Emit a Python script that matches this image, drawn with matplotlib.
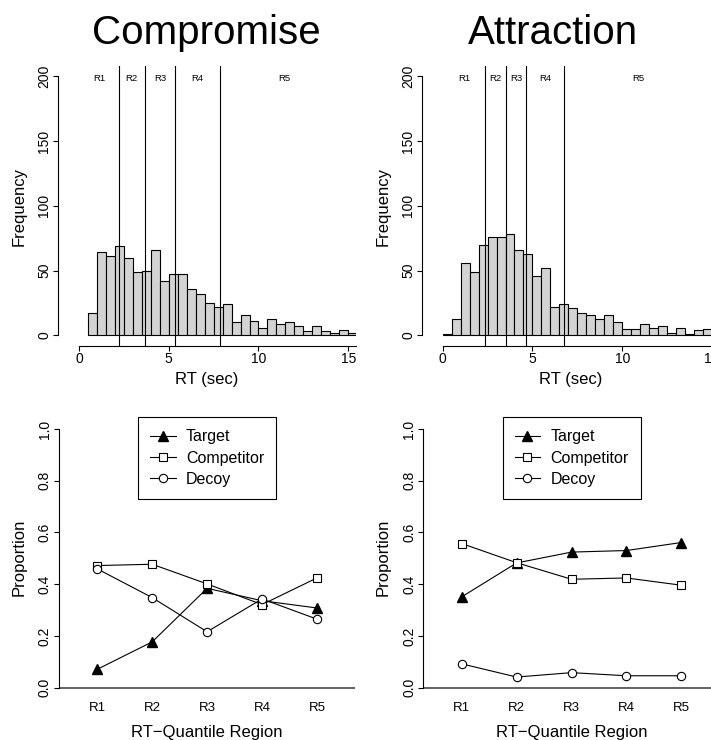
import numpy as np
import matplotlib
matplotlib.use("Agg")
import matplotlib.pyplot as plt

plt.rcParams['font.family'] = ['Liberation Sans', 'DejaVu Sans']

# ---- data ----
bin_width = 0.5
comp_start = 0.5
comp_counts = [17, 64, 61, 69, 60, 49, 50, 66, 42, 47, 47, 36, 32, 25, 22, 24,
               10, 16, 11, 6, 13, 9, 10, 7, 3, 7, 3, 2, 4, 2, 6]
attr_start = 0.0
attr_counts = [1, 13, 56, 49, 70, 76, 76, 78, 66, 63, 46, 52, 22, 24, 21, 17,
               16, 13, 16, 10, 5, 5, 9, 6, 7, 2, 6, 1, 4, 5, 3]
comp_quantiles = [2.21, 3.68, 5.35, 7.85]
attr_quantiles = [2.37, 3.51, 4.66, 6.75]

regions = ["R1", "R2", "R3", "R4", "R5"]
comp_target = [0.071, 0.177, 0.384, 0.336, 0.308]
comp_competitor = [0.472, 0.477, 0.401, 0.321, 0.424]
comp_decoy = [0.459, 0.348, 0.216, 0.343, 0.265]
attr_target = [0.351, 0.482, 0.524, 0.530, 0.561]
attr_competitor = [0.557, 0.483, 0.419, 0.424, 0.396]
attr_decoy = [0.092, 0.041, 0.058, 0.046, 0.046]

W, H = 711, 740
fig = plt.figure(figsize=(W / 100, H / 100), dpi=100)


def box(left, top, right, bottom):
    return [left / W, 1 - bottom / H, (right - left) / W, (bottom - top) / H]


TICK = 10


def hist_panel(left, counts, start, quants, title, title_x):
    ax = fig.add_axes(box(left, 66, left + 297.7, 345.7))
    edges = start + bin_width * np.arange(len(counts))
    ax.bar(edges, counts, width=bin_width, align='edge', color='#d3d3d3',
           edgecolor='black', linewidth=0.8, zorder=2)
    xmax = -1.153 + 297.7 / 17.95
    ax.set_xlim(-1.153, xmax)
    ax.set_ylim(-8, 208)
    for q in quants:
        ax.axvline(q, color='black', linewidth=0.8, zorder=3)
    bounds = [0] + list(quants) + [15]
    for i, r in enumerate(regions):
        ax.text((bounds[i] + bounds[i + 1]) / 2, 198, r, ha='center',
                va='center', fontsize=6.8)
    for s in ['top', 'right']:
        ax.spines[s].set_visible(False)
    ax.spines['left'].set_bounds(0, 200)
    ax.spines['bottom'].set_bounds(0, xmax)
    for s in ['left', 'bottom']:
        ax.spines[s].set_linewidth(0.8)
    ax.set_xticks([0, 5, 10, 15])
    ax.set_yticks([0, 50, 100, 150, 200])
    ax.tick_params(axis='x', length=3.5, width=0.8, pad=1, labelsize=TICK)
    ax.tick_params(axis='y', length=3.5, width=0.8, pad=1.5, labelsize=TICK,
                   labelrotation=90)
    for lab in ax.get_yticklabels():
        lab.set_va('center')
    fig.text((left + 297.7 / 2) / W, 1 - 384 / H, "RT (sec)", ha='center',
             va='baseline', fontsize=12)
    fig.text((left - 39.3) / W, 1 - 206 / H, "Frequency", ha='center',
             va='center', rotation=90, fontsize=12)
    fig.text(title_x / W, 1 - 44 / H, title, ha='center', va='baseline',
             fontsize=29)
    return ax


def prop_panel(left, target, competitor, decoy):
    ax = fig.add_axes(box(left, 418.6, left + 296.4, 698.0))
    x = np.arange(1, len(regions) + 1)
    ax.axhline(0, color='#555555', linewidth=1.3, zorder=1)
    ax.plot(x, target, color='black', linewidth=0.8, marker='^',
            markersize=7, markerfacecolor='black', markeredgecolor='black',
            label='Target', zorder=3)
    ax.plot(x, competitor, color='black', linewidth=0.8, marker='s',
            markersize=6, markerfacecolor='white', markeredgecolor='black',
            markeredgewidth=0.8, label='Competitor', zorder=3)
    ax.plot(x, decoy, color='black', linewidth=0.8, marker='o',
            markersize=6, markerfacecolor='white', markeredgecolor='black',
            markeredgewidth=0.8, label='Decoy', zorder=3)
    ax.set_xlim(0.3, 5.7)
    ax.set_ylim(-0.04, 1.04)
    for s in ['top', 'right', 'bottom']:
        ax.spines[s].set_visible(False)
    ax.spines['left'].set_bounds(0, 1)
    ax.spines['left'].set_linewidth(0.8)
    ax.set_xticks(x)
    ax.set_xticklabels(regions)
    ax.set_yticks([0, 0.2, 0.4, 0.6, 0.8, 1.0])
    ax.set_yticklabels(["0.0", "0.2", "0.4", "0.6", "0.8", "1.0"])
    ax.tick_params(axis='x', length=0, pad=3, labelsize=9.5)
    ax.tick_params(axis='y', length=3.5, width=0.8, pad=1.5, labelsize=TICK,
                   labelrotation=90)
    for lab in ax.get_yticklabels():
        lab.set_va('center')
    leg = ax.legend(loc='upper left',
                    bbox_to_anchor=((left + 79.4) / W, 1 - 417.3 / H),
                    bbox_transform=fig.transFigure, frameon=True,
                    fancybox=False, edgecolor='black', framealpha=1,
                    fontsize=11.5, handlelength=1.6, handletextpad=0.65,
                    borderpad=0.74, labelspacing=0.4, borderaxespad=0)
    leg.get_frame().set_linewidth(0.8)
    fig.text((left + 148.2) / W, 1 - 736.7 / H, "RT\u2212Quantile Region",
             ha='center', va='baseline', fontsize=12)
    fig.text((left - 39.9) / W, 1 - 557 / H, "Proportion", ha='center',
             va='center', rotation=90, fontsize=12)
    return ax


hist_panel(58.3, comp_counts, comp_start, comp_quantiles, "Compromise", 206.7)
hist_panel(422.0, attr_counts, attr_start, attr_quantiles, "Attraction", 552.5)
prop_panel(58.9, comp_target, comp_competitor, comp_decoy)
prop_panel(423.3, attr_target, attr_competitor, attr_decoy)

fig.savefig("out.png", dpi=100)
